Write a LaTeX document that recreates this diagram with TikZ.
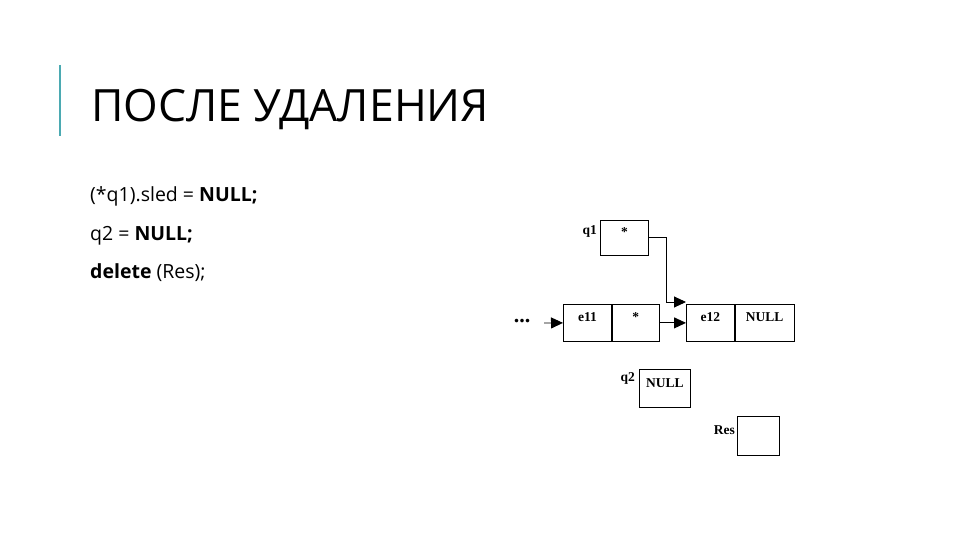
\documentclass[tikz,border=0pt]{standalone}
\usepackage{fontspec}
\setmainfont{Open Sans}
\newfontfamily\cellfont{Liberation Serif}
\usetikzlibrary{arrows.meta,positioning}
\definecolor{barteal}{RGB}{75,170,178}

\begin{document}
\begin{tikzpicture}[x=1pt,y=-1pt,
      cell/.style={draw,line width=.8pt,inner sep=0pt,
        text height=8pt,text depth=10pt,font=\cellfont\bfseries\fontsize{13.5}{15}\selectfont},
      tag/.style={inner sep=1pt,font=\cellfont\bfseries\fontsize{13.5}{15}\selectfont},
      code/.style={anchor=base west,inner sep=0pt,font=\fontsize{19.5}{22}\selectfont},
      link/.style={line width=.9pt,-{Triangle[length=12pt,width=11pt]}}
    ]
    \useasboundingbox (0,0) rectangle (960,540);

    % heading
    \draw[barteal,line width=2.5pt] (60,65) -- (60,136);
    \node[anchor=base west,inner sep=0pt,font=\fontsize{44.5}{48}\selectfont]
      (title) at (91,122) {ПОСЛЕ УДАЛЕНИЯ};

    % code lines
    \node[code] (line1) at (90,201) {(*q1).sled = \textbf{NULL;}};
    \node[code] (line2) at (90,240) {q2 = \textbf{NULL;}};
    \node[code] (line3) at (90,278) {\textbf{delete} (Res);};

    % list after removal
    \node[cell,minimum width=48pt,minimum height=35pt,anchor=north west] (q1) at (600,220) {*};
    \node[tag,anchor=north east] at (598,224) {q1};

    \node[cell,minimum width=48pt,minimum height=37pt,anchor=north west] (e11) at (563,304) {e11};
    \node[cell,minimum width=47pt,minimum height=37pt,anchor=west] (e11n) at (e11.east) {*};
    \node[cell,minimum width=48pt,minimum height=37pt,anchor=north west] (e12) at (686,304) {e12};
    \node[cell,minimum width=59pt,minimum height=37pt,anchor=west] (e12n) at (e12.east) {NULL};
    \node[inner sep=0pt,font=\cellfont\bfseries\fontsize{22}{22}\selectfont] (dots) at (522,321) {...};

    \node[cell,minimum width=51pt,minimum height=38pt,anchor=north west] (q2) at (639,369) {NULL};
    \node[tag,anchor=north east] at (636,371) {q2};

    \node[cell,minimum width=42pt,minimum height=39pt,anchor=north west] (res) at (737,416) {};
    \node[tag,anchor=east] at (736,430) {Res};

    \coordinate (bend) at (666,302);
    \coordinate (feed) at (544,323);
    \draw[line width=.9pt] (q1.east |- 0,237) -| (bend);
    \draw[link] (bend) -- (e12.west |- bend);
    \draw[link] (e11n.east) -- (e12.west);
    \draw[link] (feed) -- (e11.west);
  \end{tikzpicture}
\end{document}
